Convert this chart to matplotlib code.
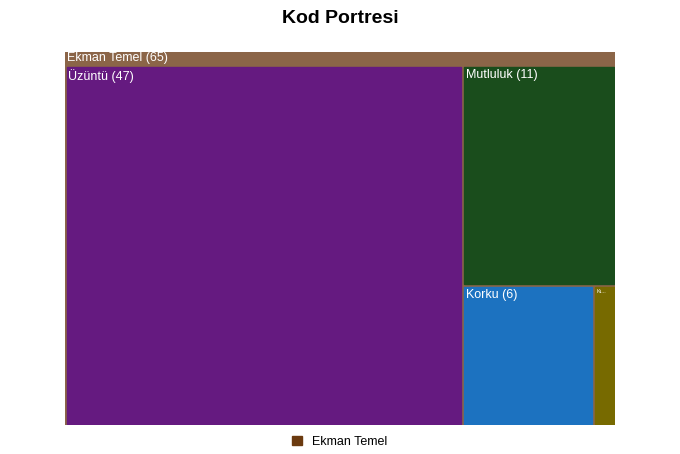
import matplotlib
matplotlib.use("Agg")
import matplotlib.pyplot as plt
from matplotlib.patches import Rectangle

parent = "Ekman Temel"
labels = ["Üzüntü", "Mutluluk", "Korku", "Kızgınlık"]
values = [47, 11, 6, 1]
colors = ["#651a80", "#1a4d1c", "#1c72c0", "#776a00"]
parent_color = "#8b6548"

plt.rcParams['font.family'] = ['Liberation Sans', 'DejaVu Sans']
fig = plt.figure(figsize=(6.8, 4.54), dpi=100)
ax = fig.add_axes([65/680, 29/454, 550/680, 373/454])
W, H = 550, 373
ax.set_xlim(0, W); ax.set_ylim(H, 0); ax.axis('off')
total = sum(values)
hdr = 13
ax.add_patch(Rectangle((0, 0), W, H, color=parent_color))
ax.text(2, hdr/2, f"{parent} ({total})", color="white", fontsize=9, va="center")
g = 1.5
top = hdr; h = H - hdr
def box(x, y, w, hh, c, lab, fs=9):
    ax.add_patch(Rectangle((x+g, y+g), w-2*g, hh-2*g, color=c))
    ax.text(x+3, y+4, lab, color="white", fontsize=fs, va="top", ha="left")
w0 = W * values[0] / total
box(0, top, w0, h, colors[0], f"{labels[0]} ({values[0]})")
rest = total - values[0]
rw = W - w0
h1 = h * values[1] / rest
box(w0, top, rw, h1, colors[1], f"{labels[1]} ({values[1]})")
rem = values[2] + values[3]
w2 = rw * values[2] / rem
box(w0, top+h1, w2, h-h1, colors[2], f"{labels[2]} ({values[2]})")
box(w0+w2, top+h1, rw-w2, h-h1, colors[3], "Kı...", fs=4)
fig.text(0.5, 0.96, "Kod Portresi", ha="center", va="center", fontsize=14, fontweight="bold")
fig.legend(handles=[Rectangle((0,0),1,1,color="#6b3a0f")], labels=[parent], loc="center",
           bbox_to_anchor=(0.5, 0.027), frameon=False, fontsize=9, handlelength=0.8, handleheight=0.8)
fig.savefig("out.png", dpi=100)
